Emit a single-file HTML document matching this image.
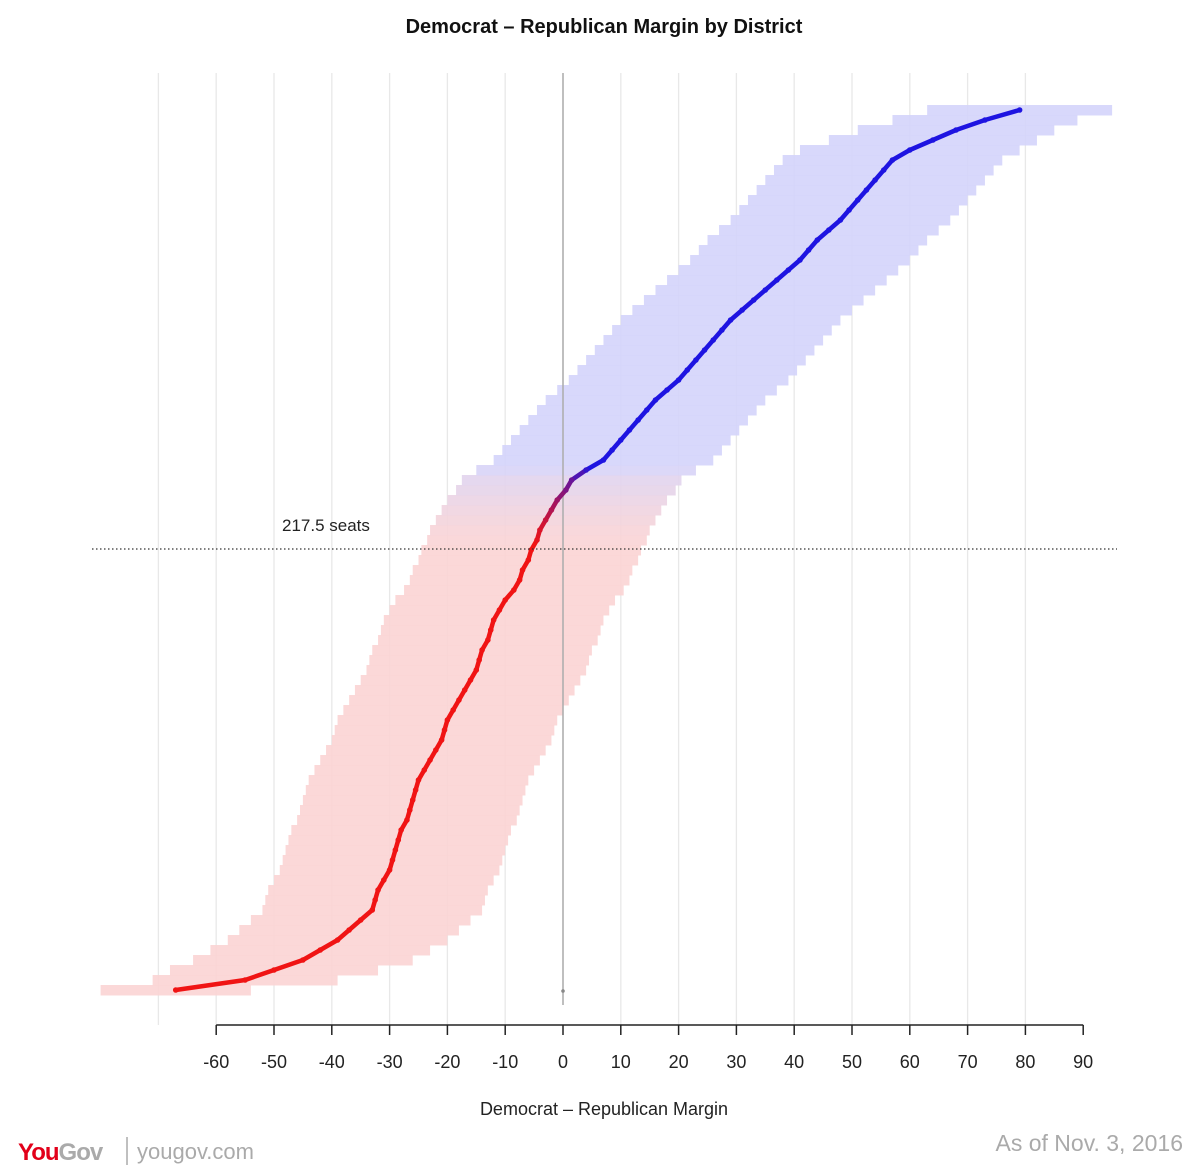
<!DOCTYPE html>
<html><head><meta charset="utf-8">
<style>
body{margin:0;background:#fff;width:1200px;height:1172px;overflow:hidden;font-family:"Liberation Sans",sans-serif;}
svg{display:block}
</style></head>
<body>
<svg id="chart" width="1200" height="1172" viewBox="0 0 1200 1172">
<text x="604" y="33" text-anchor="middle" font-size="20" font-weight="bold" fill="#111">Democrat – Republican Margin by District</text>
<g id="grid"></g>
<g id="bars"></g>
<g id="marks"></g>
<g id="axis"></g>
<line x1="92" y1="549" x2="1117" y2="549" stroke="#333" stroke-width="1.3" stroke-dasharray="1.5,2.5"/>
<text x="282" y="531" font-size="17" fill="#222">217.5 seats</text>
<text x="604" y="1115" text-anchor="middle" font-size="18" fill="#222">Democrat – Republican Margin</text>
<g>
<text x="18" y="1160" font-size="24" font-weight="bold" letter-spacing="-1" fill="#e2001a">You<tspan fill="#aaa">Gov</tspan></text>
<line x1="127" y1="1137" x2="127" y2="1165" stroke="#aaa" stroke-width="1.5"/>
<text x="137" y="1159" font-size="22" fill="#aaa">yougov.com</text>
</g>
<text x="1183" y="1151" text-anchor="end" font-size="23" fill="#aaa">As of Nov. 3, 2016</text>
</svg>
<script>
// margins, ordered from most Republican (bottom) to most Democratic (top)
const margins = [-67,-55,-50,-45,-42,-39,-37,-35,-33,-32.5,-32,-31,-30,-29.5,-29,-28.5,-28,-27,-26.5,-26,-25.5,-25,-24,-23,-22,-21,-20.5,-20,-19,-18,-17,-16,-15,-14.5,-14,-13,-12.5,-12,-11,-10,-8.5,-7.5,-7,-6,-5.5,-4.5,-4,-3,-2,-1,0.5,1.5,4,7,8.5,10,11.5,13,14.5,16,18,20,21.5,23,24.5,26,27.5,29,31,33,35,37,39,41,42.5,44,46,48,49.5,51,52.5,54,55.5,57,60,64,68,73,79];
const halfWidth = [13,16,18,19,19,19,19,19,19,19,19,19,19,19,19,19,19,19,19,19,19,19,19,19,19,19,19,19,19,19,19,19,19,19,19,19,19,19,19,19,19,19,19,19,19,19,19,19,19,19,19,19,19,19,19,19,19,19,19,19,19,19,19,19,19,19,19,19,19,19,19,19,19,19,19,19,19,19,19,19,19,19,19,19,19,18,17,16,16];
const ticks = [-60,-50,-40,-30,-20,-10,0,10,20,30,40,50,60,70,80,90];
const gridVals = [-70,-60,-50,-40,-30,-20,-10,10,20,30,40,50,60,70,80];

const NS="http://www.w3.org/2000/svg";
const x = v => 563 + 5.78*v;
const yTop=110, yBot=990;
const y = i => yBot - i*(yBot-yTop)/(margins.length-1);
function mk(tag, attrs, parent){const e=document.createElementNS(NS,tag);for(const k in attrs)e.setAttribute(k,attrs[k]);parent.appendChild(e);return e;}
function col(v){const t=Math.max(0,Math.min(1,(v+5)/10));const r=Math.round(240*(1-t)+30*t),g=20,b=Math.round(20*(1-t)+225*t);return `rgb(${r},${g},${b})`;}
function lightCol(v){const t=Math.max(0,Math.min(1,(v+5)/10));const r=Math.round(251*(1-t)+212*t),g=Math.round(212*(1-t)+212*t),b=Math.round(212*(1-t)+251*t);return `rgb(${r},${g},${b})`;}

const grid=document.getElementById('grid');
gridVals.forEach(v=>{
  const l=mk('line',{x1:x(v),x2:x(v),y1:73,y2:1025,stroke:'#e8e8e8','stroke-width':1.3},grid);
  
  
});

const bars=document.getElementById('bars');
const rowH=(yBot-yTop)/(margins.length-1);
margins.forEach((m,i)=>{
  const r=mk('rect',{x:x(m-halfWidth[i]),y:y(i)-rowH/2,width:x(m+halfWidth[i])-x(m-halfWidth[i]),height:rowH+0.5,fill:lightCol(m),opacity:0.9},bars);
  
  
});
const zl=mk('line',{x1:x(0),x2:x(0),y1:73,y2:1005,stroke:'#b0b0b0','stroke-width':2,opacity:0.8},grid.parentNode);


bars.parentNode.insertBefore(zl,document.getElementById('marks'));

const marks=document.getElementById('marks');
for(let i=0;i<margins.length-1;i++){
  const l=mk('line',{x1:x(margins[i]),y1:y(i),x2:x(margins[i+1]),y2:y(i+1),stroke:col((margins[i]+margins[i+1])/2),'stroke-width':4.5,'stroke-linecap':'round'},marks);
  
  
}
margins.forEach((m,i)=>{
  const c=mk('circle',{cx:x(m),cy:y(i),r:2.8,fill:col(m)},marks);
  
  
});
const sd=mk('circle',{cx:x(0),cy:991,r:1.8,fill:'#888'},marks);



const axis=document.getElementById('axis');
const al=mk('line',{x1:x(ticks[0]),x2:x(ticks[ticks.length-1]),y1:1025,y2:1025,stroke:'#222','stroke-width':1.5},axis);


ticks.forEach(v=>{
  const t=mk('line',{x1:x(v),x2:x(v),y1:1025,y2:1035,stroke:'#222','stroke-width':1.5},axis);
  
  
  const tx=mk('text',{x:x(v),y:1068,'text-anchor':'middle','font-size':18,fill:'#222'},axis);
  tx.textContent=v;
  
  
});
</script>
</body></html>
